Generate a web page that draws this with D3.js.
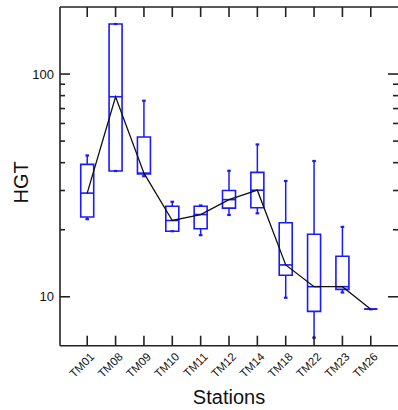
<!DOCTYPE html>
<html>
<head>
<meta charset="utf-8">
<script src="https://cdn.jsdelivr.net/npm/d3@7"></script>
<style>
  html, body { margin: 0; padding: 0; background: #fff; }
  svg { display: block; }
  text { font-family: "Liberation Sans", Arial, sans-serif; fill: #111; }
</style>
</head>
<body>
<svg id="chart" width="398" height="410"></svg>
<script>
// Stations along the x axis
const stations = ["TM01","TM08","TM09","TM10","TM11","TM12","TM14","TM18","TM22","TM23","TM26"];
// Box-plot statistics of HGT per station
const whiskerLow  = [22.3, 36.7, 34.8, 19.7, 18.9, 23.3, 23.7,  9.9,  6.55, 10.45, 8.8];
const q1          = [22.8, 36.7, 35.6, 19.7, 20.2, 25.0, 25.1, 12.5,  8.6,  10.8,  8.8];
const median      = [29.2, 79.1, 35.9, 22.0, 23.4, 27.3, 30.1, 13.9, 11.1,  11.1,  8.8];
const q3          = [39.3, 167.7, 52.2, 25.5, 25.5, 30.0, 36.2, 21.5, 19.1, 15.2,  8.8];
const whiskerHigh = [43.1, 167.7, 75.9, 26.7, 25.7, 36.8, 48.3, 33.1, 40.7, 20.6,  8.8];
// Labelled and minor ticks of the log axis
const majorTicks = [10, 100];
const minorTicks = [20, 30, 40, 50, 60, 70, 80, 90];

const svg = d3.select("#chart");
const L = 60, R = 398, T = 7, B = 345.7;

const x = d3.scalePoint().domain(stations).range([L, R]).padding(0.96);
const y = d3.scaleLog().domain([6.03, 200]).range([B, T]);

const boxes = stations.map((s, i) => ({
  s, lo: whiskerLow[i], q1: q1[i], med: median[i], q3: q3[i], hi: whiskerHigh[i]
}));

const blue = "#1a1aff";
const halfW = 6.5;

const g = svg.append("g");

// whiskers
g.selectAll("line.whisker-up").data(boxes).join("line")
  .attr("x1", d => x(d.s)).attr("x2", d => x(d.s))
  .attr("y1", d => y(d.q3)).attr("y2", d => y(d.hi))
  .attr("stroke", blue).attr("stroke-width", 1.5);
g.selectAll("line.whisker-down").data(boxes).join("line")
  .attr("x1", d => x(d.s)).attr("x2", d => x(d.s))
  .attr("y1", d => y(d.q1)).attr("y2", d => y(d.lo))
  .attr("stroke", blue).attr("stroke-width", 1.5);
// whisker end caps
["hi", "lo"].forEach(k => {
  g.append("g").selectAll("line").data(boxes).join("line")
    .attr("x1", d => x(d.s) - 1.8).attr("x2", d => x(d.s) + 1.8)
    .attr("y1", d => y(d[k])).attr("y2", d => y(d[k]))
    .attr("stroke", blue).attr("stroke-width", 2.2);
});
// boxes (paths so that flat boxes still draw)
g.selectAll("path.box").data(boxes).join("path")
  .attr("d", d => {
    const cx = x(d.s), t = y(d.q3), b = y(d.q1);
    return `M${cx - halfW},${t}H${cx + halfW}V${b}H${cx - halfW}Z`;
  })
  .attr("fill", "none").attr("stroke", blue).attr("stroke-width", 1.6);
// median marks inside boxes
g.selectAll("line.med").data(boxes).join("line")
  .attr("x1", d => x(d.s) - halfW).attr("x2", d => x(d.s) + halfW)
  .attr("y1", d => y(d.med)).attr("y2", d => y(d.med))
  .attr("stroke", blue).attr("stroke-width", 1.6);

// median trend line
const line = d3.line().x(d => x(d.s)).y(d => y(d.med));
g.append("path").datum(boxes).attr("d", line)
  .attr("fill", "none").attr("stroke", "#111").attr("stroke-width", 1.3);

// frame (the right edge sits at the border of the page)
const axisColor = "#222";
const frame = svg.append("g").attr("stroke", axisColor).attr("stroke-width", 1.6);
frame.append("line").attr("x1", L).attr("x2", L).attr("y1", T).attr("y2", B);
frame.append("line").attr("x1", L).attr("x2", R).attr("y1", B).attr("y2", B);
frame.append("line").attr("x1", L).attr("x2", R).attr("y1", T).attr("y2", T);
frame.append("line").attr("x1", R + 1).attr("x2", R + 1).attr("y1", T).attr("y2", B);

// category ticks on bottom and top, pointing inward
stations.forEach(s => {
  frame.append("line").attr("x1", x(s)).attr("x2", x(s)).attr("y1", B).attr("y2", B - 10);
  frame.append("line").attr("x1", x(s)).attr("x2", x(s)).attr("y1", T).attr("y2", T + 10);
});
// y ticks on both sides, pointing inward
majorTicks.forEach(v => {
  frame.append("line").attr("x1", L).attr("x2", L + 10).attr("y1", y(v)).attr("y2", y(v));
  frame.append("line").attr("x1", R).attr("x2", R - 10).attr("y1", y(v)).attr("y2", y(v));
});
minorTicks.forEach(v => {
  frame.append("line").attr("x1", L).attr("x2", L + 5).attr("y1", y(v)).attr("y2", y(v));
  frame.append("line").attr("x1", R).attr("x2", R - 5).attr("y1", y(v)).attr("y2", y(v));
});

// y tick labels
svg.append("g").selectAll("text").data(majorTicks).join("text")
  .attr("x", L - 6).attr("y", d => y(d)).attr("dy", "0.36em")
  .attr("text-anchor", "end").attr("font-size", 13)
  .text(d => d);

// x tick labels, rotated
svg.append("g").selectAll("text").data(stations).join("text")
  .attr("transform", d => `translate(${x(d) + 5},${B + 9}) rotate(-45)`)
  .attr("text-anchor", "end").attr("dy", "0.35em").attr("font-size", 11.5)
  .text(d => d);

// axis titles
svg.append("text").attr("x", (L + R) / 2).attr("y", 403.6)
  .attr("text-anchor", "middle").attr("font-size", 20).text("Stations");
svg.append("text").attr("transform", `translate(27.5,${(T + B) / 2 + 6}) rotate(-90)`)
  .attr("text-anchor", "middle").attr("font-size", 20).text("HGT");
</script>
</body>
</html>
